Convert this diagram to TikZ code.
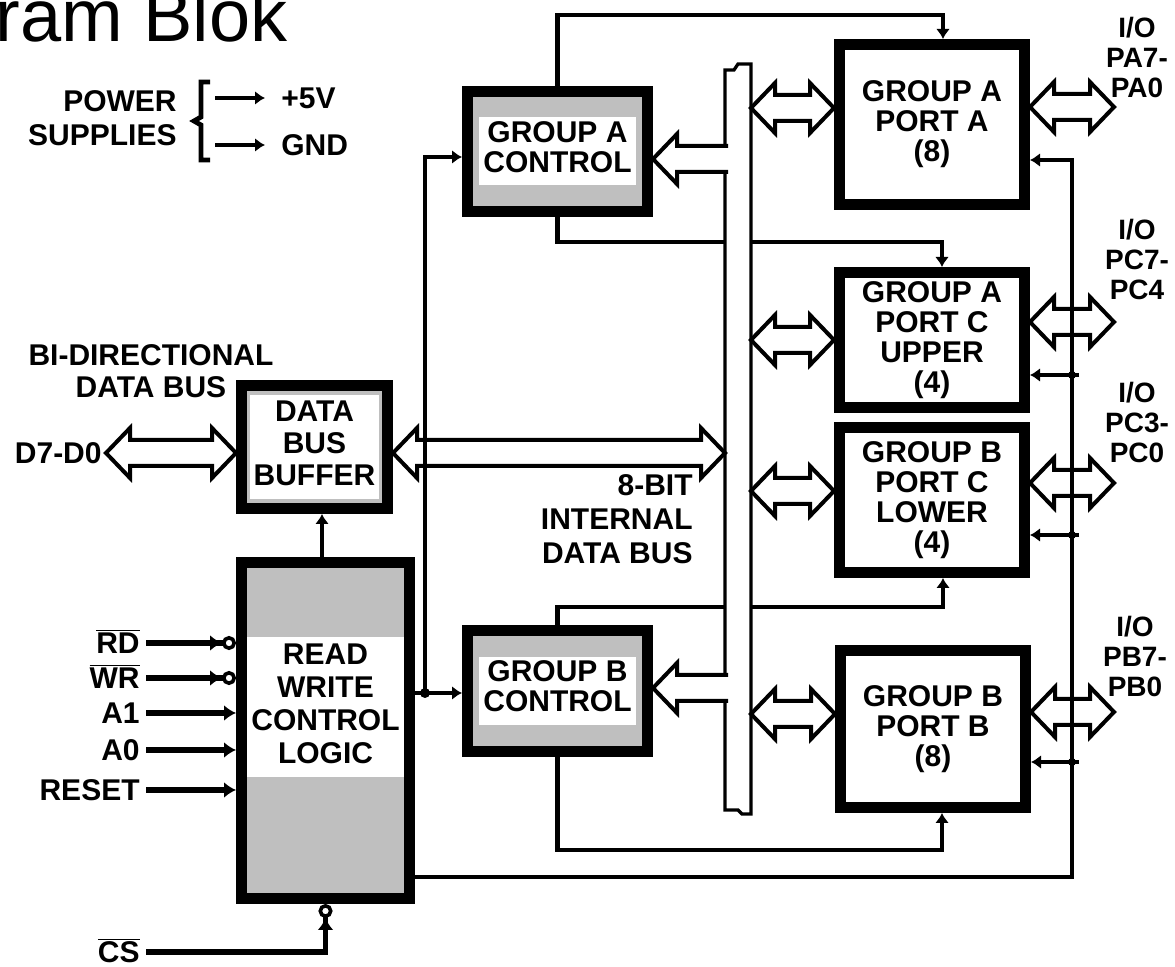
\documentclass[tikz,border=0pt]{standalone}
\usepackage{fontspec}
\setmainfont{Liberation Sans}
\usetikzlibrary{arrows.meta,calc,positioning}
\newcommand{\wbox}[1]{{\setlength{\fboxsep}{2pt}\colorbox{white}{\begin{tabular}{@{}c@{}}#1\end{tabular}}}}
% hollow bus arrow with two heads, #1 left tip, #2 right tip
\newcommand{\dbus}[2]{\filldraw[fat] (#1) -- ($(#1)+(24,-25)$) -- ($(#1)+(24,-13)$) -- ($(#2)+(-24,-13)$) -- ($(#2)+(-24,-25)$) -- (#2)
  -- ($(#2)+(-24,25)$) -- ($(#2)+(-24,13)$) -- ($(#1)+(24,13)$) -- ($(#1)+(24,25)$) -- cycle;}
% hollow bus arrow with one head, open at #1 (bus side), tip #2 on the left
\newcommand{\sbus}[2]{\filldraw[fat] ($(#1)+(3,-13)$) -- ($(#2)+(24,-13)$) -- ($(#2)+(24,-25)$) -- (#2)
  -- ($(#2)+(24,25)$) -- ($(#2)+(24,13)$) -- ($(#1)+(3,13)$);}

\begin{document}
\begin{tikzpicture}[x=0.5pt,y=-0.5pt,>=Latex,
  font=\bfseries\fontsize{15}{15}\selectfont,
  block/.style={draw,line width=5.5pt,fill=white,inner sep=0pt},
  ctrl/.style={block,fill=black!25},
  port/.style={block,align=center,minimum width=92.5pt},
  sig/.style={line width=2.4pt},
  rail/.style={line width=2pt},
  tip/.style={-{Latex[length=5pt,width=7pt]}},
  fat/.style={fill=white,line width=2pt,line join=miter},
  lbl/.style={inner sep=2pt,align=center},
  io/.style={lbl,font=\bfseries\fontsize{14}{15}\selectfont},
  sigl/.style={anchor=east,inner sep=3pt,text height=10.7pt,text depth=0pt},
  inp/.style={line width=2.6pt,-{Latex[length=6pt,width=8pt]}},
  inpn/.style={line width=2.6pt,-{Latex[length=6pt,width=8pt] Circle[open,length=7pt,width=7pt,line width=1.8pt]}}]
  \path[fill=white,use as bounding box] (0,0) rectangle (1175,967);
  \node[anchor=base west,inner sep=0pt,font=\fontsize{37}{40}\selectfont] (ttl) at (-5,42) {ram Blok};

  % power supplies
  \node[lbl,align=right,anchor=east,font=\bfseries\fontsize{15}{17}\selectfont] (psu) at (181,118) {POWER\\SUPPLIES};
  \node[lbl,anchor=west] (p5v) at (277,98) {+5V};
  \node[lbl,anchor=west] (gnd) at (277,145) {GND};
  \coordinate (brc) at (201,121);
  \draw[sig] ($(brc)+(9,-39)$) -- ($(brc)+(0,-39)$) -- ($(brc)+(0,-4)$) -- ($(brc)+(-7,0)$) -- ($(brc)+(0,4)$) -- ($(brc)+(0,39)$) -- ($(brc)+(9,39)$);
  \draw[sig,tip,shorten >=6pt] ($(brc |- p5v)+(14,0)$) -- (p5v.west);
  \draw[sig,tip,shorten >=6pt] ($(brc |- gnd)+(14,0)$) -- (gnd.west);

  % labels
  \node[lbl,font=\bfseries\fontsize{15}{16}\selectfont] (bidi) at (151,371) {BI-DIRECTIONAL\\DATA BUS};
  \node[lbl,anchor=east] (d70) at (106,453) {D7-D0};
  \node[lbl,align=right,anchor=east,font=\bfseries\fontsize{15}{17}\selectfont] (ibl) at (697,519) {8-BIT\\INTERNAL\\DATA BUS};

  % blocks
  \node[ctrl,minimum width=73pt,minimum height=61.5pt,font=\bfseries\fontsize{15}{16}\selectfont] (buf) at (314.5,447) {\wbox{DATA\\BUS\\BUFFER}};
  \node[ctrl,minimum width=84pt,minimum height=168pt,font=\bfseries\fontsize{15}{16.5}\selectfont] (rw) at (325.5,730.5) {\raisebox{8pt}[0pt][0pt]{\wbox{READ\\WRITE\\CONTROL\\LOGIC}}};
  \node[ctrl,minimum width=90pt,minimum height=60pt] (gac) at (557.5,151.5) {\wbox{GROUP A\\CONTROL}};
  \node[ctrl,minimum width=90pt,minimum height=60.5pt] (gbc) at (557.5,691) {\wbox{GROUP B\\CONTROL}};
  \node[port,minimum height=80pt] (pa) at (932,124.5) {GROUP A\\PORT A\\(8)};
  \node[port,minimum height=67.5pt] (pcu) at (932,340) {GROUP A\\PORT C\\UPPER\\(4)};
  \node[port,minimum height=72.5pt] (pcl) at (932,500) {GROUP B\\PORT C\\LOWER\\(4)};
  \node[port,minimum height=78.5pt] (pb) at (933,729) {GROUP B\\PORT B\\(8)};

  \node[io] (ioa) at (1137,58) {I/O\\PA7-\\PA0};
  \node[io] (iocu) at (1137,259) {I/O\\PC7-\\PC4};
  \node[io] (iocl) at (1137,422) {I/O\\PC3-\\PC0};
  \node[io] (iob) at (1135,656) {I/O\\PB7-\\PB0};

  % group control lines
  \coordinate (atop) at (943,15);
  \coordinate (abot) at (942,242);
  \coordinate (btop) at (943,607);
  \coordinate (bbot) at (942,850);
  \draw[sig,tip] (gac.north) |- (atop) -- (atop |- pa.north);
  \draw[sig,tip] (gac.south) |- (abot) -- (abot |- pcu.north);
  \draw[sig,tip] (gbc.north) |- (btop) -- (btop |- pcl.south);
  \draw[sig,tip] (gbc.south) |- (bbot) -- (bbot |- pb.south);

  % internal bus
  \node[minimum width=13pt,minimum height=375pt,inner sep=0pt,outer sep=0pt] (bus) at (738,439) {};
  \filldraw[fill=white,line width=1.6pt] ([yshift=-3pt]bus.north west) -- ++(9,0) -- ++(4,-6) -- (bus.north east)
    -- (bus.south east) -- ++(-9,0) -- ++(-4,-4) -- ([yshift=2pt]bus.south west) -- cycle;

  % hollow bus arrows
  \coordinate (bufw) at ([yshift=-3pt]buf.west);
  \coordinate (bufe) at ([yshift=-3pt]buf.east);
  \dbus{bufw -| d70.east}{bufw}
  \dbus{bufe}{bufe -| bus.west}
  \coordinate (gae) at ([yshift=-3.75pt]gac.east);
  \coordinate (gbe) at ([yshift=1.5pt]gbc.east);
  \sbus{gae -| bus.west}{gae}
  \sbus{gbe -| bus.west}{gbe}
  \coordinate (pal) at ([yshift=8.25pt]pa.west);
  \coordinate (pcll) at ([yshift=4.5pt]pcl.west);
  \coordinate (pbl) at ([yshift=7.5pt]pb.west);
  \dbus{pal -| bus.east}{pal}
  \dbus{pcu.west -| bus.east}{pcu.west}
  \dbus{pcll -| bus.east}{pcll}
  \dbus{pbl -| bus.east}{pbl}
  \coordinate (iox) at (1114,0);
  \coordinate (par) at ([yshift=8.75pt]pa.east);
  \coordinate (pcur) at ([yshift=9pt]pcu.east);
  \coordinate (pclr) at ([yshift=8.5pt]pcl.east);
  \coordinate (pbr) at ([yshift=8.5pt]pb.east);
  \dbus{par}{par -| iox}
  \dbus{pcur}{pcur -| iox}
  \dbus{pclr}{pclr -| iox}
  \dbus{pbr}{pbr -| iox}

  % read/write logic outputs
  \coordinate (rwtop) at ([xshift=-1.75pt]rw.north);
  \draw[sig,tip] (rwtop) -- (rwtop |- buf.south);
  \coordinate (jn) at (425,693);
  \coordinate (gaw) at ([yshift=-2.75pt]gac.west);
  \draw[sig,tip] (jn -| rw.east) -- (jn -| gbc.west);
  \draw[sig,tip] (jn) |- (gaw);
  \fill (jn) circle[radius=5];

  % right rail to the ports
  \coordinate (rv) at (1072,877);
  \coordinate (pain) at ([yshift=-17.75pt]pa.east);
  \coordinate (pcuin) at ([yshift=-17.5pt]pcu.east);
  \coordinate (pclin) at ([yshift=-17.5pt]pcl.east);
  \coordinate (pbin) at ([yshift=-16.5pt]pb.east);
  \draw[rail,tip] (rw.east |- rv) -- (rv) |- (pain);
  \foreach \p in {pcuin,pclin,pbin}{
    \draw[rail,tip] ($(\p -| rv)+(7,0)$) -- (\p);
    \fill (\p -| rv) circle[radius=4];}

  % inputs
  \node[sigl] (rd) at (146,643) {$\overline{\hbox{RD}}$};
  \node[sigl] (wr) at (146,678) {$\overline{\hbox{WR}}$};
  \node[sigl] (a1) at (146,713) {A1};
  \node[sigl] (a0) at (146,750) {A0};
  \node[sigl] (rst) at (146,790) {RESET};
  \node[sigl] (cs) at (146,952) {$\overline{\hbox{CS}}$};
  \draw[inpn] (rd.east) -- (rd.east -| rw.west);
  \draw[inpn] (wr.east) -- (wr.east -| rw.west);
  \foreach \s in {a1,a0,rst} \draw[inp] (\s.east) -- (\s.east -| rw.west);
  \draw[inpn] (cs.east) -| (rw.south);
\end{tikzpicture}
\end{document}
